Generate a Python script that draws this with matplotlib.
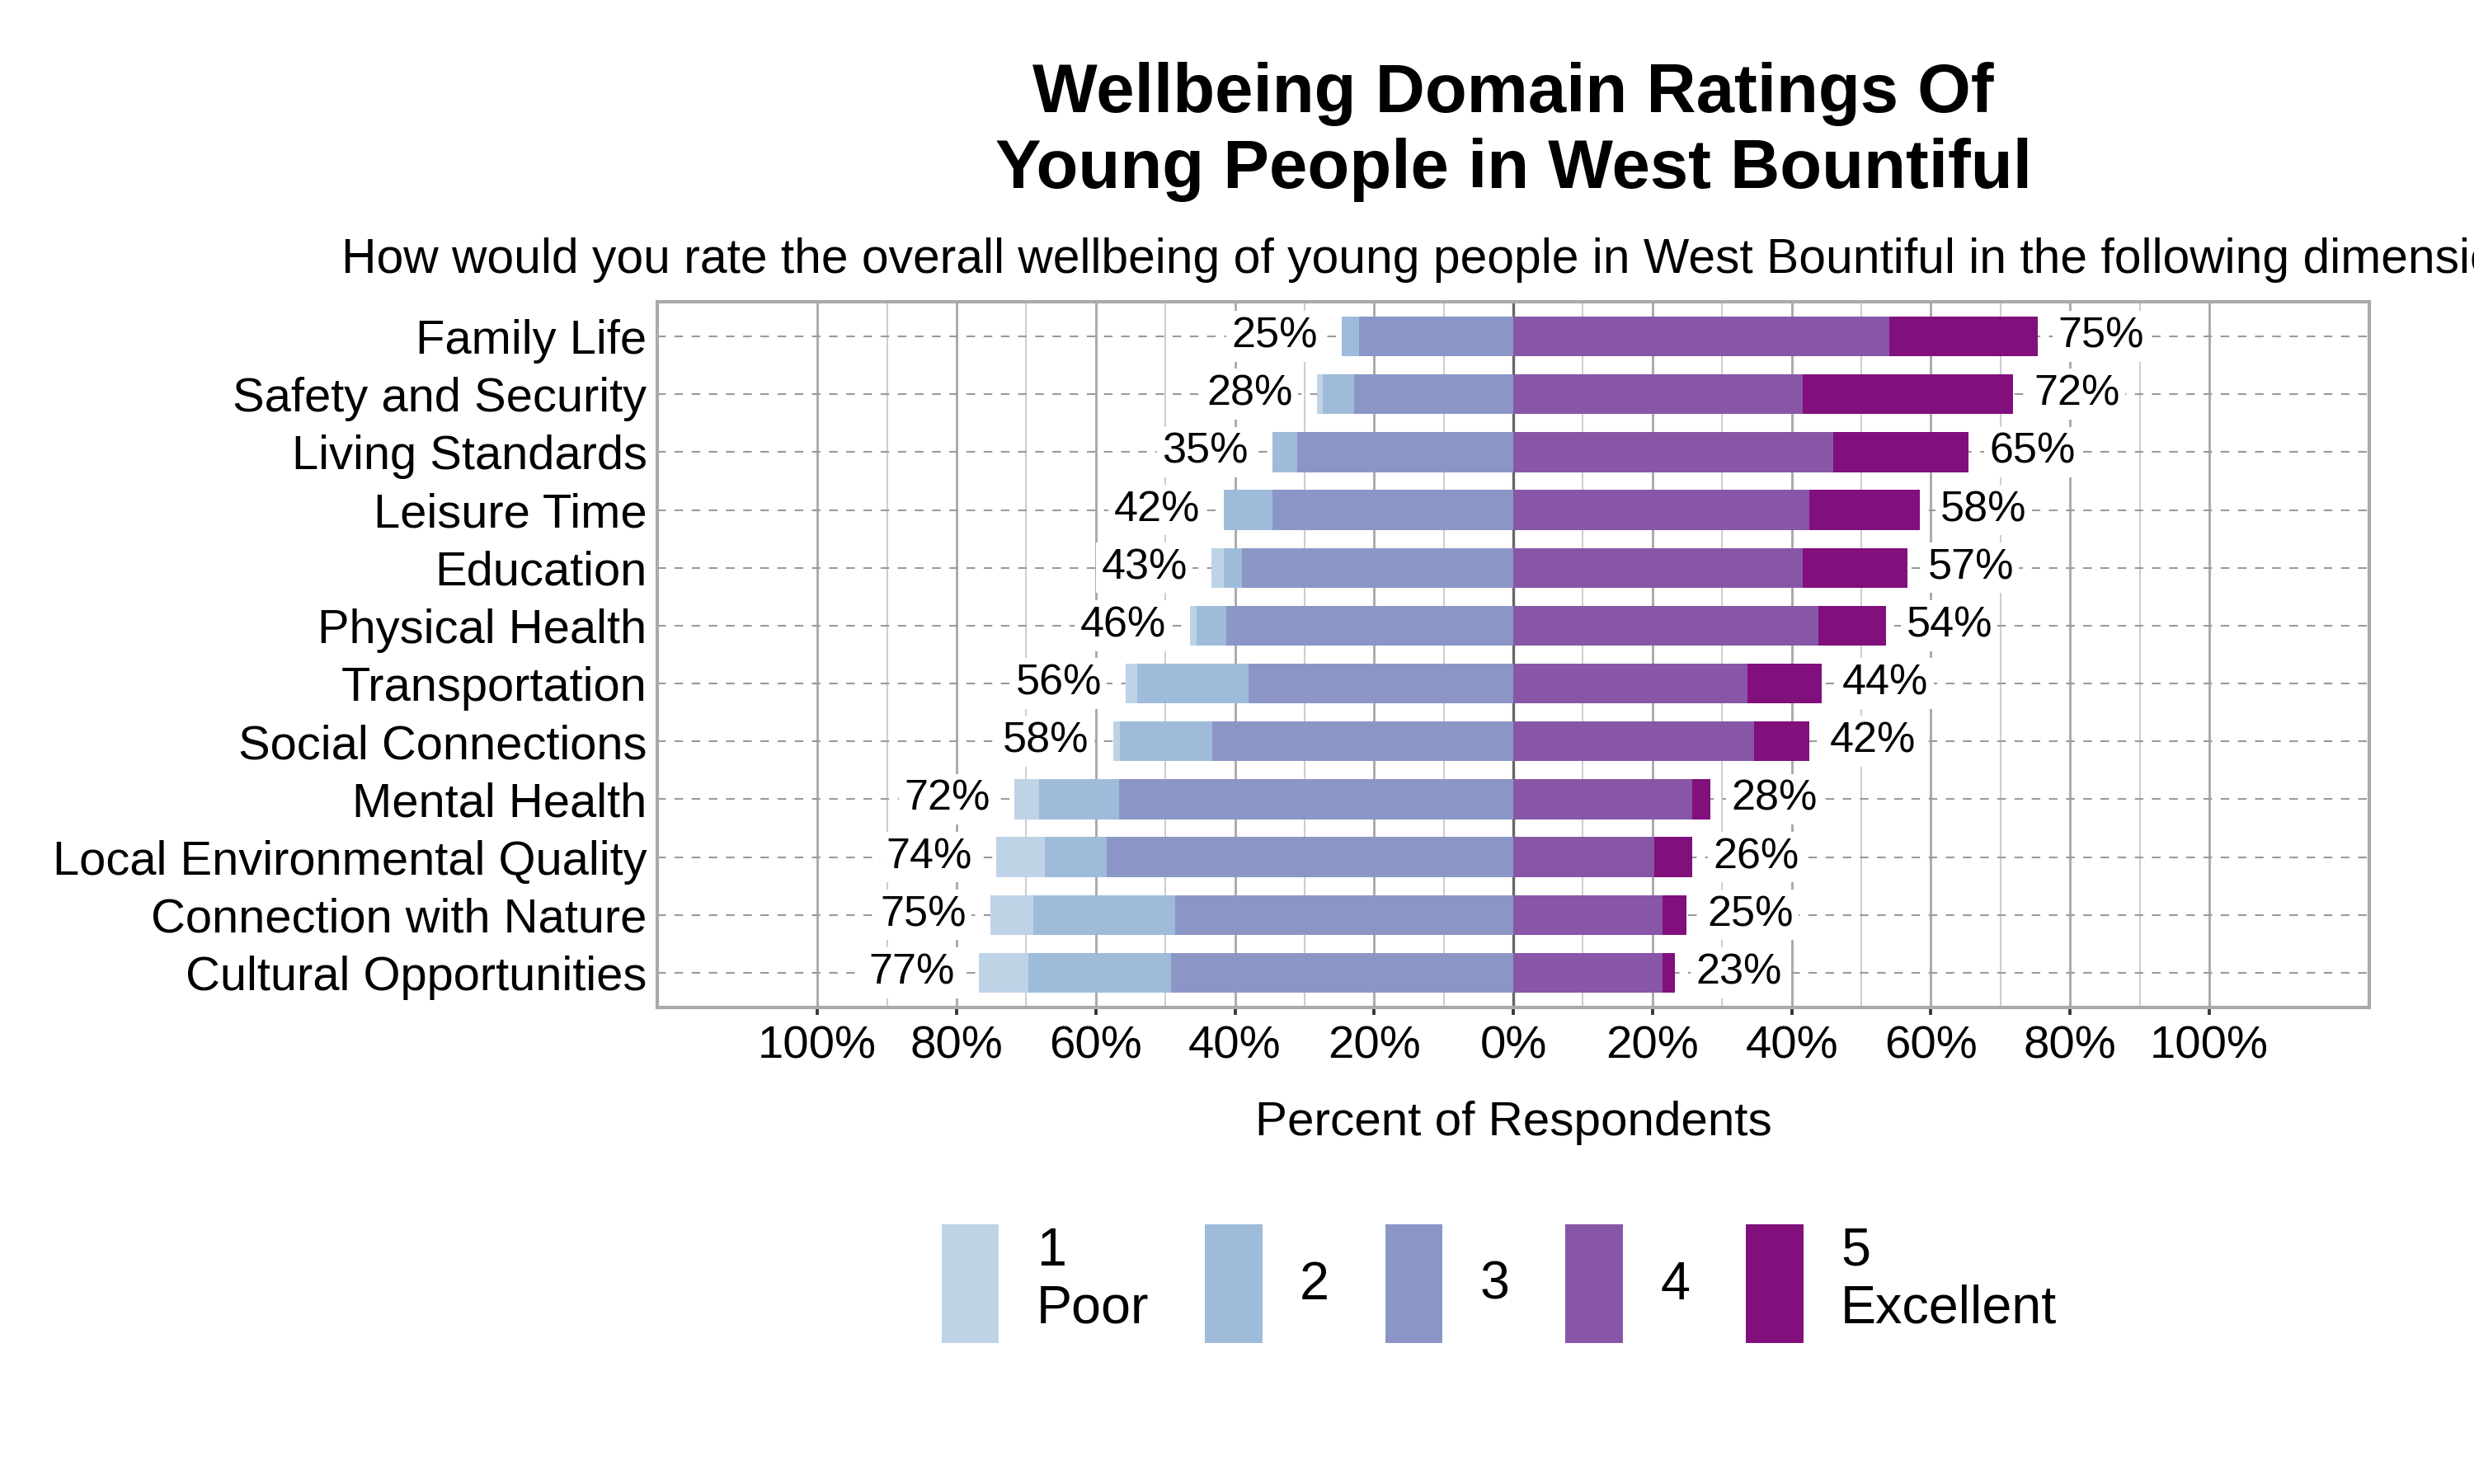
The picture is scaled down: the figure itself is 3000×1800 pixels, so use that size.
import matplotlib
matplotlib.use("Agg")
import matplotlib.pyplot as plt
from matplotlib.patches import Patch
import numpy as np

plt.rcParams['font.family'] = ['Liberation Sans', 'DejaVu Sans']

# data (percent of respondents per rating)
domains = ["Family Life", "Safety and Security", "Living Standards", "Leisure Time",
           "Education", "Physical Health", "Transportation", "Social Connections",
           "Mental Health", "Local Environmental Quality", "Connection with Nature",
           "Cultural Opportunities"]
r1 = [0.0, 0.8, 0.0, 0.0, 1.8, 1.0, 1.7, 1.0, 3.6, 7.0, 6.1, 7.1]
r2 = [2.5, 4.5, 3.6, 7.0, 2.6, 4.3, 16.0, 13.2, 11.5, 8.9, 20.4, 20.5]
r3 = [22.2, 22.9, 31.0, 34.6, 39.0, 41.2, 38.0, 43.3, 56.6, 58.4, 48.6, 49.2]
r4 = [54.0, 41.6, 46.0, 42.5, 41.6, 43.8, 33.7, 34.6, 25.7, 20.3, 21.4, 21.4]
r5 = [21.3, 30.2, 19.4, 15.9, 15.0, 9.7, 10.6, 7.9, 2.6, 5.4, 3.5, 1.8]
legend_labels = ["1\nPoor", "2", "3", "4", "5\nExcellent"]
colors = ["#bfd3e6", "#9ebcda", "#8c96c6", "#8856a7", "#810f7c"]

r1, r2, r3, r4, r5 = map(np.array, (r1, r2, r3, r4, r5))
y = np.arange(len(domains))
h = 0.69

fig = plt.figure(figsize=(10, 6), dpi=300)
ax = fig.add_axes([0.2657, 0.3211, 0.692, 0.4756])

# negative side: 3, 2, 1 going left
ax.barh(y, -r3, height=h, color=colors[2], zorder=2)
ax.barh(y, -r2, left=-r3, height=h, color=colors[1], zorder=2)
ax.barh(y, -r1, left=-(r3 + r2), height=h, color=colors[0], zorder=2)
# positive side: 4, 5
ax.barh(y, r4, height=h, color=colors[3], zorder=2)
ax.barh(y, r5, left=r4, height=h, color=colors[4], zorder=2)

neg = r1 + r2 + r3
pos = r4 + r5
box = dict(boxstyle="square,pad=0.12", fc="white", ec="none")
for i in range(len(domains)):
    ax.annotate(f"{round(neg[i])}%", (-neg[i], y[i]), xytext=(-7, 0),
                textcoords="offset points", ha="right", va="center",
                fontsize=12.5, bbox=box, zorder=3)
    ax.annotate(f"{round(pos[i])}%", (pos[i], y[i]), xytext=(6, 0),
                textcoords="offset points", ha="left", va="center",
                fontsize=12.5, bbox=box, zorder=3)

ax.set_xlim(-123, 123)
ax.set_ylim(len(domains) - 0.4, -0.6)
ax.set_yticks(y)
ax.set_yticklabels(domains, fontsize=13.9)

major = np.arange(-100, 101, 20)
minor = np.arange(-90, 91, 20)
ax.set_xticks(major)
ax.set_xticklabels([f"{abs(v)}%" for v in major], fontsize=13.5)
ax.set_xticks(minor, minor=True)

ax.set_axisbelow(True)
ax.xaxis.grid(True, which="major", color="#aaaaaa", lw=0.7)
ax.xaxis.grid(True, which="minor", color="#c4c4c4", lw=0.4)
ax.yaxis.grid(True, color="#9a9a9a", lw=0.5, linestyle=(0, (5, 5)))
ax.axvline(0, color="#666666", lw=0.8, zorder=1.5)

ax.tick_params(axis="y", length=0, pad=3)
ax.tick_params(axis="x", which="major", length=2.2, width=0.9, color="#333333", pad=3)
ax.tick_params(axis="x", which="minor", length=0)
for s in ax.spines.values():
    s.set_color("#aaaaaa")
    s.set_linewidth(1.0)

fig.text(0.6117, 0.911, "Wellbeing Domain Ratings Of\nYoung People in West Bountiful",
         ha="center", va="center", fontsize=20, fontweight="bold", linespacing=1.22)
fig.text(0.138, 0.8246,
         "How would you rate the overall wellbeing of young people in West Bountiful in the following dimensions?",
         ha="left", va="center", fontsize=14.1)
fig.text(0.6117, 0.2433, "Percent of Respondents", ha="center", va="center", fontsize=14)

handles = [Patch(facecolor=c, edgecolor="none") for c in colors]
fig.legend(handles, legend_labels, ncol=5, loc="center", bbox_to_anchor=(0.606, 0.135),
           frameon=False, fontsize=15.5, handlelength=1.08, handleheight=3.05,
           handletextpad=0.7, columnspacing=1.05)

fig.savefig("out.png", dpi=300)
